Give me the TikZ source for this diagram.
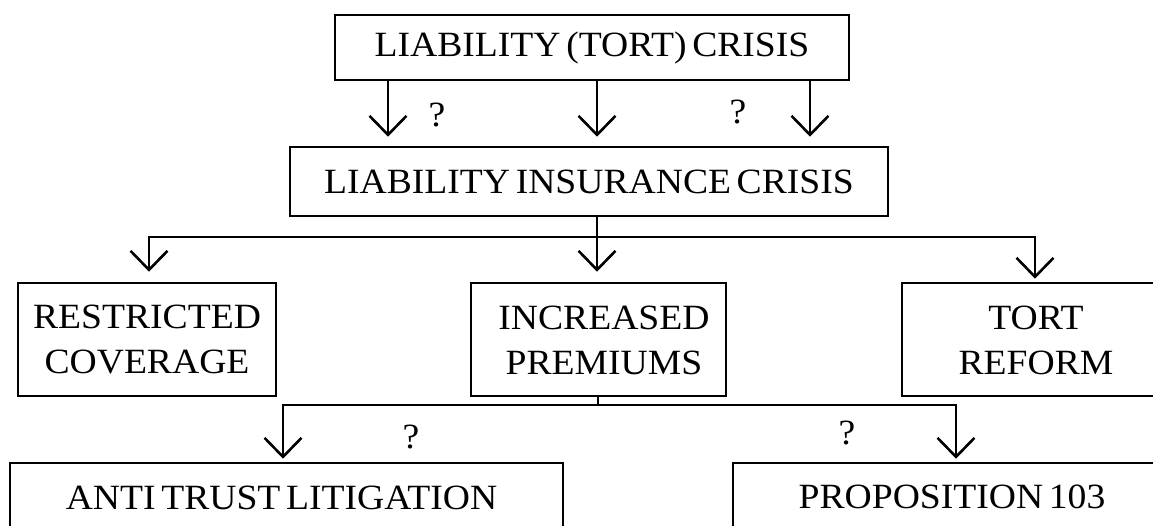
\documentclass[tikz,border=0pt]{standalone}
\usepackage{fontspec}
\setmainfont{Liberation Serif}[FakeStretch=1.06,WordSpace=0.6]
\usetikzlibrary{arrows.meta}
\begin{document}
\begin{tikzpicture}[x=1pt,y=-1pt,
  every node/.style={font=\fontsize{35.5}{45}\selectfont},
  box/.style={draw, line width=2.6pt, inner sep=0pt, align=center},
  txt/.style={inner sep=0pt, align=center},
  conn/.style={line width=2.6pt},
  arr/.style={conn, -{Straight Barb[length=19pt,width=37pt]}},
]
\useasboundingbox (0,0) rectangle (1153,525);
\clip (0,0) rectangle (1153,525);
% boxes
\node[box, minimum width=514pt, minimum height=65pt] (top) at (592,47.5) {LIABILITY (TORT) CRISIS};
\node[box, minimum width=598pt, minimum height=69pt] (ins) at (589,181.5) {LIABILITY INSURANCE CRISIS};
\node[box, minimum width=258pt, minimum height=113pt] (rc) at (147,339.5) {RESTRICTED\\COVERAGE};
\node[box, minimum width=255pt, minimum height=113pt] (inc) at (598.5,339.5) {};
\node[txt] (inct) at (604,340) {INCREASED\\PREMIUMS};
\node[box, minimum width=300pt, minimum height=113pt] (tr) at (1052,339.5) {};
\node[txt] (trt) at (1036,340) {TORT\\REFORM};
\node[box, minimum width=553pt, minimum height=71pt] (at) at (286.5,498.5) {};
\node[txt] (att) at (281.5,498) {ANTI TRUST LITIGATION};
\node[box, minimum width=470pt, minimum height=71pt] (pr) at (968,498.5) {};
\node[txt] (prt) at (952,497) {PROPOSITION 103};
% question marks
\node[txt] (q1) at (437,115) {?};
\node[txt] (q2) at (738,112) {?};
\node[txt] (q3) at (411,437) {?};
\node[txt] (q4) at (847,433) {?};
% arrow positions
\coordinate (x1) at (388,0);
\coordinate (x2) at (597,0);
\coordinate (x3) at (810,0);
\coordinate (j1) at (597,237);
\coordinate (a1) at (149,0);
\coordinate (a3) at (1035,0);
\coordinate (j2) at (598,405);
\coordinate (b1) at (283,0);
\coordinate (b2) at (956,0);
% top to insurance crisis
\draw[arr, shorten >=9pt] (top.south -| x1) -- (ins.north -| x1);
\draw[arr, shorten >=9pt] (top.south -| x2) -- (ins.north -| x2);
\draw[arr, shorten >=9pt] (top.south -| x3) -- (ins.north -| x3);
% insurance crisis to consequences
\draw[arr, shorten >=10pt] (ins.south -| j1) -- (inc.north -| j1);
\draw[arr, shorten >=10pt] (j1) -| (rc.north -| a1);
\draw[arr, shorten >=3pt] (j1) -| (tr.north -| a3);
% increased premiums to litigation / proposition
\draw[conn] (inc.south -| j2) -- (j2);
\draw[arr, shorten >=3pt] (j2) -| (at.north -| b1);
\draw[arr, shorten >=3pt] (j2) -| (pr.north -| b2);
\end{tikzpicture}
\end{document}
